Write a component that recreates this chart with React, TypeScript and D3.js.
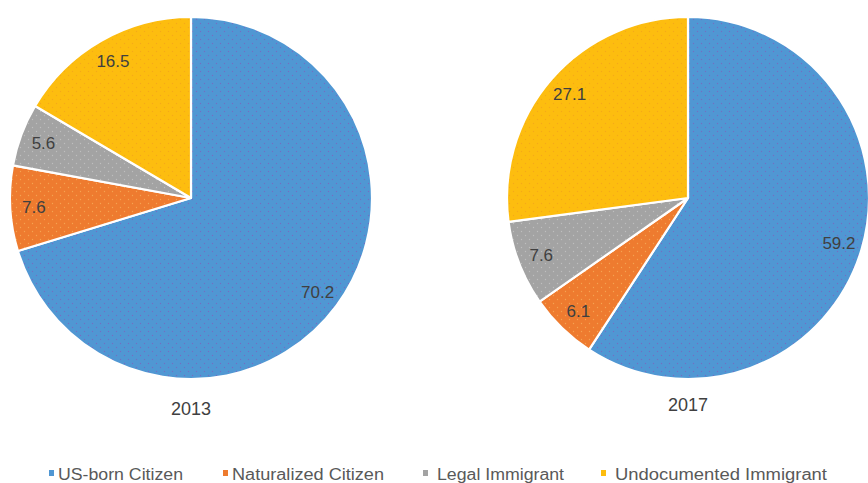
import React from "react";
import * as d3 from "d3";

const categories = ["US-born Citizen", "Naturalized Citizen", "Legal Immigrant", "Undocumented Immigrant"];
const years = ["2013", "2017"];
const values2013 = [70.2, 7.6, 5.6, 16.5];
const values2017 = [59.2, 6.1, 7.6, 27.1];
const colors = ["#5097d3", "#ee7b2f", "#a3a3a3", "#fdbd0f"];
const dotColors = ["#7a64bf", "#f6ad5a", "#c4c4c4", "#f3a41a"];

const W = 868;
const H = 483;
const R = 181;
const centers = [
  { x: 191, y: 198 },
  { x: 688, y: 198 },
];
const titleY = [415, 411];
const legendSquareX = [49, 223, 423, 601];
const legendTextWidths = [125, 152, 127, 212];

export default function App() {
  const series = [values2013, values2017];
  const pie = d3.pie<number>().sort(null).value((d) => d);
  const arc = d3.arc<d3.PieArcDatum<number>>().innerRadius(0).outerRadius(R);
  const labelArc = d3
    .arc<d3.PieArcDatum<number>>()
    .innerRadius(R * 0.87)
    .outerRadius(R * 0.87);

  return (
    <svg
      width={W}
      height={H}
      style={{ position: "absolute", left: 0, top: 0, background: "#fff" }}
    >
      <defs>
        {colors.map((c, i) => (
          <pattern key={i} id={`pat${i}`} width={8} height={8} patternUnits="userSpaceOnUse">
            <rect width={8} height={8} fill={c} />
            <circle cx={1.5} cy={1.5} r={0.7} fill={dotColors[i]} opacity={0.8} />
            <circle cx={5.5} cy={5.5} r={0.7} fill={dotColors[i]} opacity={0.8} />
          </pattern>
        ))}
      </defs>
      <rect width={W} height={H} fill="#fff" />
      {series.map((vals, si) => {
        const arcs = pie(vals);
        const c = centers[si];
        return (
          <g key={si} transform={`translate(${c.x},${c.y})`}>
            {arcs.map((a, i) => (
              <path
                key={i}
                d={arc(a) || ""}
                fill={`url(#pat${i})`}
                stroke="#fff"
                strokeWidth={2.2}
                strokeLinejoin="round"
              />
            ))}
            {arcs.map((a, i) => {
              const [lx, ly] = labelArc.centroid(a);
              return (
                <text
                  key={`l${i}`}
                  x={lx}
                  y={ly}
                  dy="0.36em"
                  textAnchor="middle"
                  fontFamily="Liberation Sans, Arial, sans-serif"
                  fontSize={17}
                  fill="#404040"
                >
                  {vals[i].toFixed(1)}
                </text>
              );
            })}
            <text
              x={0}
              y={titleY[si] - c.y}
              textAnchor="middle"
              fontFamily="Liberation Sans, Arial, sans-serif"
              fontSize={18}
              fill="#404040"
            >
              {years[si]}
            </text>
          </g>
        );
      })}
      <g>
        {categories.map((cat, i) => (
          <g key={cat}>
            <rect x={legendSquareX[i]} y={470} width={5} height={6} fill={colors[i]} />
            <text
              x={legendSquareX[i] + (i === 2 || i === 3 ? 14 : 9)}
              y={480}
              fontFamily="Liberation Sans, Arial, sans-serif"
              fontSize={16}
              fill="#595959"
              textLength={legendTextWidths[i]}
              lengthAdjust="spacingAndGlyphs"
            >
              {cat}
            </text>
          </g>
        ))}
      </g>
    </svg>
  );
}
